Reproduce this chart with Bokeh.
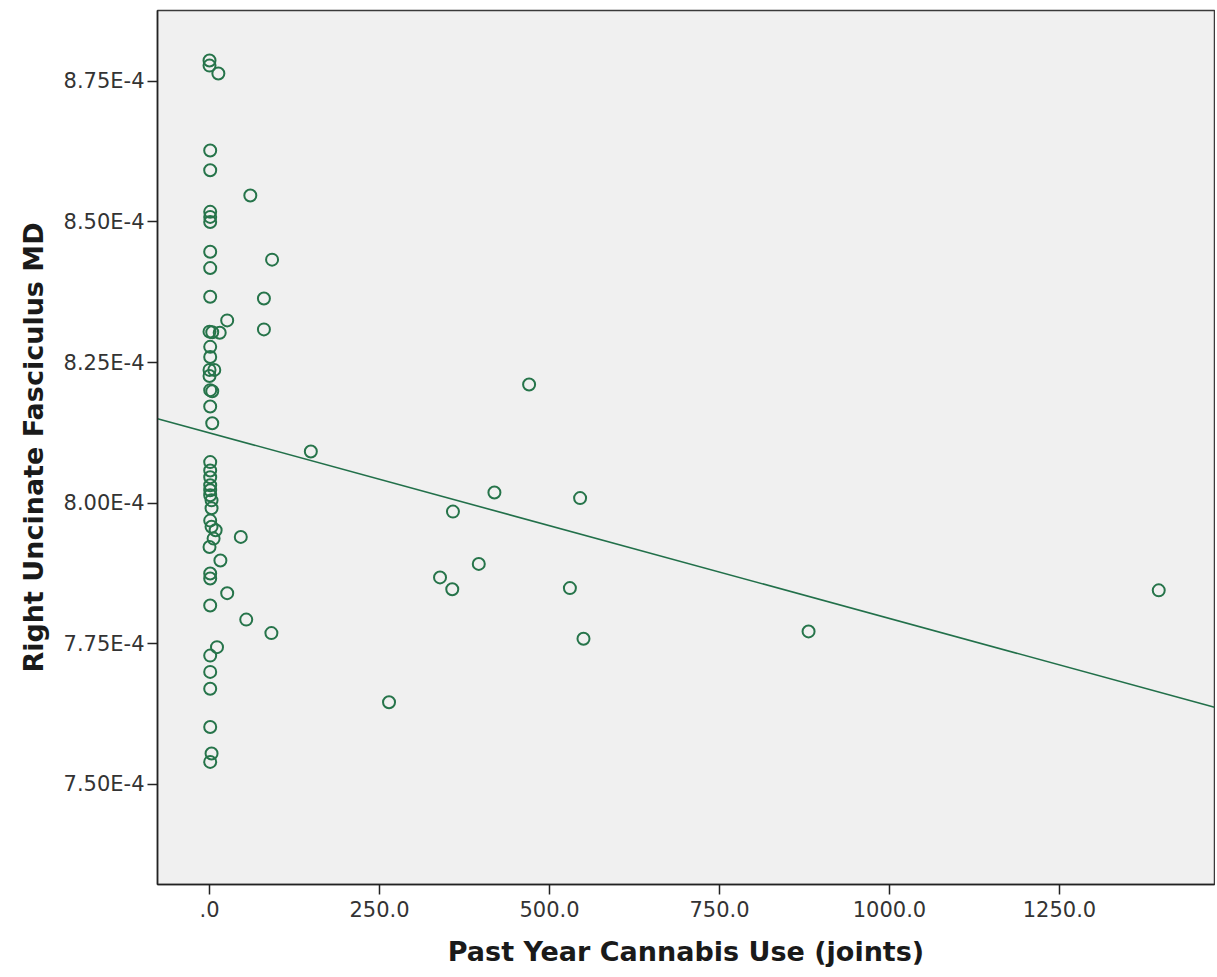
from bokeh.plotting import figure
from bokeh.models import Range1d, FixedTicker, CustomJSTickFormatter, ColumnDataSource
from bokeh.embed import file_html
from bokeh.resources import INLINE
import numpy as np

# Past year cannabis use (joints)
joints = [0, 0, 13, 1, 1, 60, 1, 1, 1, 1, 1, 92, 1, 80, 26, 80, 0, 4, 15, 1, 1,
          0, 7, 0, 1, 4, 1, 4, 1, 1, 1, 1, 1, 1, 3, 3, 1, 3, 9, 6, 46, 0, 16, 1,
          1, 26, 1, 54, 91, 11, 1, 1, 1, 1, 3, 1,
          149, 470, 419, 358, 545, 396, 339, 357, 530, 550, 264, 881, 1396]
# Right uncinate fasciculus MD (in units of 1E-4)
md_e4 = [8.787, 8.778, 8.764, 8.627, 8.592, 8.547, 8.518, 8.509, 8.500, 8.447,
         8.418, 8.433, 8.367, 8.364, 8.325, 8.309, 8.305, 8.304, 8.303, 8.278,
         8.260, 8.237, 8.237, 8.226, 8.201, 8.199, 8.172, 8.142, 8.073, 8.058,
         8.046, 8.032, 8.023, 8.014, 8.005, 7.991, 7.969, 7.958, 7.952, 7.937,
         7.940, 7.922, 7.898, 7.875, 7.866, 7.840, 7.818, 7.793, 7.769, 7.744,
         7.729, 7.700, 7.670, 7.602, 7.555, 7.540,
         8.092, 8.211, 8.019, 7.985, 8.009, 7.892, 7.868, 7.847, 7.849, 7.759,
         7.646, 7.772, 7.845]

# Fit line, in units of 1E-4
fit_intercept_e4 = 8.125
fit_slope_e4 = -0.000330

x_ticks = [0, 250, 500, 750, 1000, 1250]
y_ticks_e4 = [7.50, 7.75, 8.00, 8.25, 8.50, 8.75]

x_lo, x_hi = -76.5, 1478.0
y_lo_e4, y_hi_e4 = 7.322, 8.876

SCALE = 1e-4
GREEN = "#26744a"

p = figure(width=1215, height=969, output_backend="svg", toolbar_location=None,
           x_range=Range1d(x_lo, x_hi),
           y_range=Range1d(y_lo_e4 * SCALE, y_hi_e4 * SCALE),
           min_border_left=157, min_border_top=10, min_border_right=1,
           min_border_bottom=85)

p.background_fill_color = "#f0f0f0"
p.border_fill_color = "white"
p.outline_line_color = "#3a3a3a"
p.outline_line_width = 1.5
p.xgrid.visible = False
p.ygrid.visible = False

src = ColumnDataSource(dict(x=joints, y=[v * SCALE for v in md_e4]))
p.scatter("x", "y", source=src, marker="circle", size=12, fill_color=None,
          line_color=GREEN, line_width=2)

fx = np.array([x_lo, x_hi])
fy = (fit_intercept_e4 + fit_slope_e4 * fx) * SCALE
p.line(fx, fy, line_color="#22704a", line_width=1.6)

p.xaxis.ticker = FixedTicker(ticks=x_ticks)
p.yaxis.ticker = FixedTicker(ticks=[t * SCALE for t in y_ticks_e4])
p.xaxis.formatter = CustomJSTickFormatter(code="return tick === 0 ? '.0' : tick.toFixed(1);")
p.yaxis.formatter = CustomJSTickFormatter(code="return (tick*1e4).toFixed(2) + 'E-4';")

for ax in (p.xaxis[0], p.yaxis[0]):
    ax.axis_line_color = "#222222"
    ax.axis_line_width = 1.5
    ax.major_tick_line_color = "#222222"
    ax.major_tick_line_width = 1.5
    ax.major_tick_in = 0
    ax.major_tick_out = 10
    ax.minor_tick_line_color = None
    ax.major_label_text_font = "DejaVu Sans"
    ax.major_label_text_font_size = "21px"
    ax.major_label_text_color = "#333333"
    ax.axis_label_text_font = "DejaVu Sans"
    ax.axis_label_text_font_style = "bold"
    ax.axis_label_text_font_size = "27px"
    ax.axis_label_text_color = "#1a1a1a"

p.xaxis.axis_label = "Past Year Cannabis Use (joints)"
p.yaxis.axis_label = "Right Uncinate Fasciculus MD"
p.xaxis.major_label_standoff = 6
p.yaxis.major_label_standoff = 3
p.xaxis.axis_label_standoff = 16
p.yaxis.axis_label_standoff = 12

open("out.html", "w").write(file_html(p, INLINE))
